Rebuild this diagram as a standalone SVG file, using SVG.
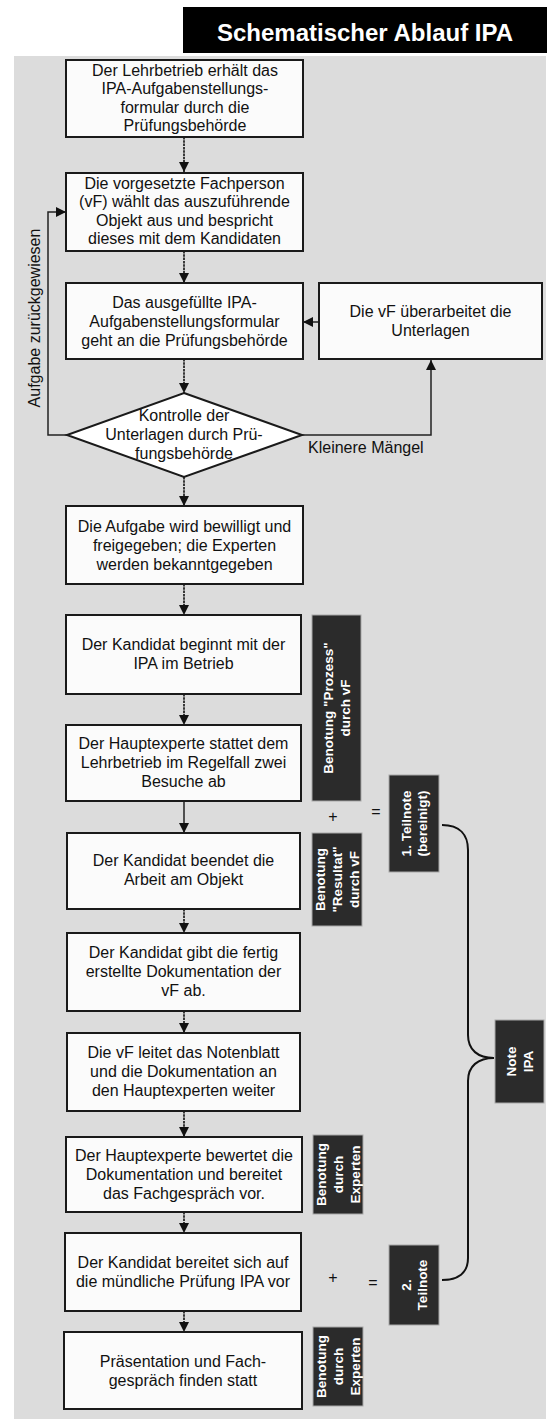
<svg xmlns="http://www.w3.org/2000/svg" width="552" height="1419" viewBox="0 0 552 1419">
<defs>
<marker id="ah" viewBox="0 0 10 10" refX="10" refY="5" markerWidth="10" markerHeight="10" markerUnits="userSpaceOnUse" orient="auto">
<path d="M0,0 L10,5 L0,10 z" fill="#111"/>
</marker>
<style>
.box{fill:#fbfbfb;stroke:#1a1a1a;stroke-width:2}
.dark{fill:#2b2b2b;stroke:#a8a8a8;stroke-width:1}
.t{font-family:"Liberation Sans",Arial,sans-serif;font-size:16px;fill:#111;text-anchor:middle}
.l{font-family:"Liberation Sans",Arial,sans-serif;font-size:16px;fill:#111}
.w{font-family:"Liberation Sans",Arial,sans-serif;font-size:13.5px;font-weight:bold;fill:#fff;text-anchor:middle}
.c{fill:none;stroke:#111;stroke-width:1.6;stroke-dasharray:2.5 0.8}
.s{fill:none;stroke:#222;stroke-width:1.5}
.br{fill:none;stroke:#111;stroke-width:2}
</style>
</defs>
<rect x="0" y="0" width="552" height="1419" fill="#fff"/>
<g id="header">
<rect x="183" y="7" width="364" height="46" fill="#000"/>
<text x="365" y="41" style="font-family:'Liberation Sans',Arial,sans-serif;font-size:24px;font-weight:bold;fill:#fff;text-anchor:middle">Schematischer Ablauf IPA</text>
</g>
<rect id="background" x="14" y="56" width="532" height="1363" fill="#dcdcdc"/>

<g id="connectors">
<line class="c" x1="184" y1="137" x2="184" y2="172" marker-end="url(#ah)"/>
<line class="c" x1="184" y1="251" x2="184" y2="283" marker-end="url(#ah)"/>
<line class="c" x1="184" y1="359" x2="184" y2="393" marker-end="url(#ah)"/>
<line class="c" x1="184" y1="477" x2="184" y2="506" marker-end="url(#ah)"/>
<line class="c" x1="184" y1="584" x2="184" y2="615" marker-end="url(#ah)"/>
<line class="c" x1="184" y1="694" x2="184" y2="725" marker-end="url(#ah)"/>
<line class="s" x1="184" y1="801" x2="184" y2="833" marker-end="url(#ah)"/>
<line class="c" x1="184" y1="909" x2="184" y2="933" marker-end="url(#ah)"/>
<line class="c" x1="184" y1="1011" x2="184" y2="1033" marker-end="url(#ah)"/>
<line class="c" x1="184" y1="1111" x2="184" y2="1137" marker-end="url(#ah)"/>
<line class="c" x1="184" y1="1212" x2="184" y2="1233" marker-end="url(#ah)"/>
<line class="c" x1="184" y1="1311" x2="184" y2="1332" marker-end="url(#ah)"/>
<line class="s" x1="319" y1="322" x2="303" y2="322" marker-end="url(#ah)"/>
<path class="s" d="M302,435 H431 V360" marker-end="url(#ah)"/>
<path class="s" d="M67,435 H48 V212 H66" marker-end="url(#ah)"/>
<text class="l" transform="translate(39.5,318) rotate(-90)" text-anchor="middle">Aufgabe zurückgewiesen</text>
<text class="l" x="308" y="452.5">Kleinere Mängel</text>
<path class="br" d="M442,825 C460,825 468,835 468,850 V1035 C468,1050 478,1058 494,1058 C478,1058 468,1066 468,1081 V1258 C468,1273 458,1280 442,1280"/>
<text class="t" x="333" y="821.5">+</text>
<text class="t" x="376" y="816.5">=</text>
<text class="t" x="333" y="1282.5">+</text>
<text class="t" x="373" y="1287.5">=</text>
</g>

<g id="n1">
<rect class="box" x="66" y="60" width="237" height="77"/>
<text class="t"><tspan x="185" y="75.5">Der Lehrbetrieb erhält das</tspan><tspan x="185" y="94">IPA-Aufgabenstellungs-</tspan><tspan x="185" y="112.5">formular durch die</tspan><tspan x="185" y="131">Prüfungsbehörde</tspan></text>
</g>
<g id="n2">
<rect class="box" x="66" y="173" width="237" height="78"/>
<text class="t"><tspan x="184.5" y="188.5">Die vorgesetzte Fachperson</tspan><tspan x="184.5" y="207">(vF) wählt das auszuführende</tspan><tspan x="184.5" y="225.5">Objekt aus und bespricht</tspan><tspan x="184.5" y="244">dieses mit dem Kandidaten</tspan></text>
</g>
<g id="n3">
<rect class="box" x="66" y="283" width="237" height="76"/>
<text class="t"><tspan x="184.5" y="307.5">Das ausgefüllte IPA-</tspan><tspan x="184.5" y="326.5">Aufgabenstellungsformular</tspan><tspan x="184.5" y="345.5">geht an die Prüfungsbehörde</tspan></text>
</g>
<g id="n3b">
<rect class="box" x="319" y="283" width="223" height="76"/>
<text class="t"><tspan x="430.5" y="316.5">Die vF überarbeitet die</tspan><tspan x="430.5" y="335.5">Unterlagen</tspan></text>
</g>
<g id="decision">
<polygon points="184,393 302,435 184,477 67,435" fill="#fff" stroke="#1a1a1a" stroke-width="2"/>
<text class="t"><tspan x="184" y="420.5">Kontrolle der</tspan><tspan x="184" y="440">Unterlagen durch Prü-</tspan><tspan x="184" y="458.5">fungsbehörde</tspan></text>
</g>
<g id="n4">
<rect class="box" x="66" y="506" width="237" height="78"/>
<text class="t"><tspan x="184.5" y="531.5">Die Aufgabe wird bewilligt und</tspan><tspan x="184.5" y="550.5">freigegeben; die Experten</tspan><tspan x="184.5" y="569.5">werden bekanntgegeben</tspan></text>
</g>
<g id="n5">
<rect class="box" x="66" y="615" width="235" height="79"/>
<text class="t"><tspan x="183.5" y="649.5">Der Kandidat beginnt mit der</tspan><tspan x="183.5" y="668.5">IPA im Betrieb</tspan></text>
</g>
<g id="n6">
<rect class="box" x="66" y="725" width="235" height="76"/>
<text class="t"><tspan x="183.5" y="748.5">Der Hauptexperte stattet dem</tspan><tspan x="183.5" y="767.5">Lehrbetrieb im Regelfall zwei</tspan><tspan x="183.5" y="786.5">Besuche ab</tspan></text>
</g>
<g id="n7">
<rect class="box" x="67" y="833" width="233" height="76"/>
<text class="t"><tspan x="183.5" y="865.5">Der Kandidat beendet die</tspan><tspan x="183.5" y="884.5">Arbeit am Objekt</tspan></text>
</g>
<g id="n8">
<rect class="box" x="67" y="933" width="233" height="78"/>
<text class="t"><tspan x="183.5" y="957.5">Der Kandidat gibt die fertig</tspan><tspan x="183.5" y="976.5">erstellte Dokumentation der</tspan><tspan x="183.5" y="995.5">vF ab.</tspan></text>
</g>
<g id="n9">
<rect class="box" x="67" y="1033" width="233" height="78"/>
<text class="t"><tspan x="183.5" y="1057.5">Die vF leitet das Notenblatt</tspan><tspan x="183.5" y="1076.5">und die Dokumentation an</tspan><tspan x="183.5" y="1095.5">den Hauptexperten weiter</tspan></text>
</g>
<g id="n10">
<rect class="box" x="66" y="1137" width="236" height="75"/>
<text class="t"><tspan x="184" y="1160.5">Der Hauptexperte bewertet die</tspan><tspan x="184" y="1179.5">Dokumentation und bereitet</tspan><tspan x="184" y="1198.5">das Fachgespräch vor.</tspan></text>
</g>
<g id="n11">
<rect class="box" x="65" y="1233" width="236" height="78"/>
<text class="t"><tspan x="183" y="1267.5">Der Kandidat bereitet sich auf</tspan><tspan x="183" y="1286.5">die mündliche Prüfung IPA vor</tspan></text>
</g>
<g id="n12">
<rect class="box" x="64" y="1332" width="238" height="77"/>
<text class="t"><tspan x="183" y="1366.5">Präsentation und Fach-</tspan><tspan x="183" y="1385.5">gespräch finden statt</tspan></text>
</g>

<g id="grade-prozess">
<rect class="dark" x="312" y="615" width="49" height="186"/>
<text class="w" transform="translate(336.5,708) rotate(-90)"><tspan x="0" y="-3.5">Benotung "Prozess"</tspan><tspan x="0" y="13">durch vF</tspan></text>
</g>
<g id="grade-resultat">
<rect class="dark" x="312" y="833" width="50" height="93"/>
<text class="w" transform="translate(337,879.5) rotate(-90)"><tspan x="0" y="-12">Benotung</tspan><tspan x="0" y="4.8">"Resultat"</tspan><tspan x="0" y="21.6">durch vF</tspan></text>
</g>
<g id="teilnote1">
<rect class="dark" x="389" y="775" width="50" height="97"/>
<text class="w" transform="translate(414,823.5) rotate(-90)"><tspan x="0" y="-3.5">1. Teilnote</tspan><tspan x="0" y="13">(bereinigt)</tspan></text>
</g>
<g id="grade-experten1">
<rect class="dark" x="313" y="1135" width="50" height="79"/>
<text class="w" transform="translate(338,1174.5) rotate(-90)"><tspan x="0" y="-12">Benotung</tspan><tspan x="0" y="4.8">durch</tspan><tspan x="0" y="21.6">Experten</tspan></text>
</g>
<g id="teilnote2">
<rect class="dark" x="389" y="1245" width="50" height="80"/>
<text class="w" transform="translate(414,1285) rotate(-90)"><tspan x="0" y="-3.5">2.</tspan><tspan x="0" y="13">Teilnote</tspan></text>
</g>
<g id="grade-experten2">
<rect class="dark" x="313" y="1327" width="50" height="79"/>
<text class="w" transform="translate(338,1366.5) rotate(-90)"><tspan x="0" y="-12">Benotung</tspan><tspan x="0" y="4.8">durch</tspan><tspan x="0" y="21.6">Experten</tspan></text>
</g>
<g id="note-ipa">
<rect class="dark" x="495" y="1020" width="49" height="83"/>
<text class="w" transform="translate(519.5,1061.5) rotate(-90)"><tspan x="0" y="-3.5">Note</tspan><tspan x="0" y="13">IPA</tspan></text>
</g>
</svg>
